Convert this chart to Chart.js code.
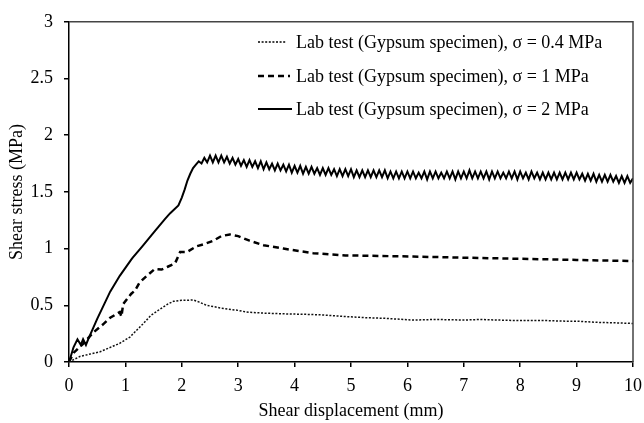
<!DOCTYPE html>
<html>
<head>
<meta charset="utf-8">
<script src="https://cdn.jsdelivr.net/npm/chart.js@4"></script>
<style>
html, body { margin: 0; padding: 0; background: #fff; }
</style>
</head>
<body>
<canvas id="shearChart" width="644" height="423"></canvas>
<script>
// legend labels
var seriesNames = [
	'Lab test (Gypsum specimen), \u03c3 = 0.4 MPa',
	'Lab test (Gypsum specimen), \u03c3 = 1 MPa',
	'Lab test (Gypsum specimen), \u03c3 = 2 MPa'
];

// sigma = 0.4 MPa (dotted)
var lowX = [0,0.2,0.55,0.9,1.08,1.2,1.32,1.45,1.61,1.75,1.85,2.0,2.12,2.2,2.3,2.44,2.7,3.0,3.15,3.5,
	3.8,4.21,4.5,4.92,5.3,5.6,6.1,6.5,7.0,7.29,7.6,8.0,8.47,8.8,9.0,9.36,9.7,10];
var lowY = [0,0.05,0.09,0.165,0.22,0.28,0.34,0.41,0.465,0.51,0.535,0.545,0.545,0.548,0.53,0.50,0.475,0.455,0.44,0.43,
	0.425,0.42,0.415,0.40,0.39,0.385,0.37,0.375,0.37,0.375,0.37,0.365,0.365,0.36,0.36,0.35,0.345,0.34];

// sigma = 1 MPa (dashed)
var midX = [0,0.08,0.25,0.43,0.6,0.73,0.9,0.93,0.96,1.1,1.17,1.25,1.38,1.52,1.64,1.75,1.88,1.97,2.09,2.26,
	2.4,2.56,2.7,2.85,3.0,3.2,3.45,3.8,4.33,4.9,5.5,6.1,7,8,9,10];
var midY = [0,0.08,0.16,0.26,0.33,0.39,0.44,0.40,0.51,0.60,0.63,0.70,0.76,0.82,0.815,0.84,0.87,0.97,0.97,1.02,
	1.04,1.07,1.11,1.125,1.11,1.07,1.03,1.0,0.96,0.94,0.935,0.93,0.92,0.91,0.90,0.89];

// sigma = 2 MPa (solid, saw-tooth after the peak)
var highX = [0,0.05,0.08,0.15,0.21,0.25,0.3,0.34,0.5,0.73,0.9,1.1,1.13,1.3,1.5,1.7,1.79,1.94,2.0,2.05,2.1,2.15,2.2,2.25,
	2.3,2.35,2.4,2.45,2.5,2.55,2.6,2.65,2.7,2.75,
	2.8,2.85,2.9,2.95,3,3.05,3.1,3.15,3.2,3.25,
	3.3,3.35,3.4,3.45,3.5,3.55,3.6,3.65,3.7,3.75,
	3.8,3.85,3.9,3.95,4,4.05,4.1,4.15,4.2,4.25,
	4.3,4.35,4.4,4.45,4.5,4.55,4.6,4.65,4.7,4.75,
	4.8,4.85,4.9,4.95,5,5.05,5.1,5.15,5.2,5.25,
	5.3,5.35,5.4,5.45,5.5,5.55,5.6,5.65,5.7,5.75,
	5.8,5.85,5.9,5.95,6,6.05,6.1,6.15,6.2,6.25,
	6.3,6.35,6.4,6.45,6.5,6.55,6.6,6.65,6.7,6.75,
	6.8,6.85,6.9,6.95,7,7.05,7.1,7.15,7.2,7.25,
	7.3,7.35,7.4,7.45,7.5,7.55,7.6,7.65,7.7,7.75,
	7.8,7.85,7.9,7.95,8,8.05,8.1,8.15,8.2,8.25,
	8.3,8.35,8.4,8.45,8.5,8.55,8.6,8.65,8.7,8.75,
	8.8,8.85,8.9,8.95,9,9.05,9.1,9.15,9.2,9.25,
	9.3,9.35,9.4,9.45,9.5,9.55,9.6,9.65,9.7,9.75,
	9.8,9.85,9.9,9.95,10];
var highY = [0,0.08,0.13,0.2,0.15,0.2,0.15,0.2,0.38,0.62,0.76,0.9,0.92,1.02,1.14,1.26,1.31,1.38,1.45,1.52,1.6,1.66,1.71,1.74,
	1.77,1.75,1.80,1.76,1.82,1.76,1.82,1.76,1.82,1.76,
	1.81,1.75,1.80,1.74,1.79,1.73,1.78,1.72,1.78,1.72,
	1.77,1.71,1.77,1.70,1.76,1.70,1.75,1.69,1.75,1.69,
	1.74,1.68,1.74,1.67,1.73,1.67,1.73,1.66,1.72,1.66,
	1.72,1.66,1.71,1.65,1.71,1.65,1.71,1.65,1.70,1.64,
	1.70,1.64,1.70,1.64,1.70,1.63,1.69,1.63,1.69,1.63,
	1.69,1.63,1.69,1.63,1.69,1.63,1.69,1.62,1.68,1.62,
	1.68,1.62,1.68,1.62,1.68,1.62,1.68,1.62,1.67,1.62,
	1.68,1.61,1.68,1.62,1.68,1.62,1.67,1.62,1.68,1.62,
	1.68,1.61,1.68,1.62,1.68,1.62,1.69,1.62,1.68,1.62,
	1.68,1.62,1.68,1.61,1.68,1.62,1.68,1.62,1.67,1.62,
	1.68,1.62,1.68,1.61,1.68,1.62,1.67,1.61,1.68,1.62,
	1.67,1.61,1.67,1.61,1.67,1.61,1.67,1.61,1.67,1.61,
	1.67,1.61,1.67,1.61,1.67,1.61,1.66,1.60,1.66,1.60,
	1.66,1.59,1.65,1.59,1.65,1.59,1.65,1.59,1.64,1.58,
	1.64,1.58,1.64,1.58,1.62];

var serif = "'Liberation Serif', 'Times New Roman', serif";

function toPoints(xs, ys) {
	var out = [];
	for (var i = 0; i < xs.length; i++) {
		out.push({x: xs[i], y: ys[i]});
	}
	return out;
}

// legend drawn by hand: short line sample + text
var legendPlugin = {
	id: 'sampleLegend',
	afterDraw: function(chart) {
		var ctx = chart.ctx;
		var rows = [42, 76, 109];
		var ends = [286, 290, 292];
		ctx.save();
		ctx.font = '18px ' + serif;
		ctx.fillStyle = '#000';
		ctx.textBaseline = 'middle';
		chart.data.datasets.forEach(function(ds, i) {
			ctx.beginPath();
			ctx.strokeStyle = '#000';
			ctx.lineWidth = ds.borderWidth;
			ctx.setLineDash(ds.borderDash || []);
			ctx.moveTo(258, rows[i]);
			ctx.lineTo(ends[i], rows[i]);
			ctx.stroke();
			ctx.setLineDash([]);
			ctx.fillText(ds.label, 296, rows[i] + 1);
		});
		ctx.restore();
	}
};

// top and right edges of the plot box
var framePlugin = {
	id: 'plotFrame',
	afterDatasetsDraw: function(chart) {
		var a = chart.chartArea;
		var ctx = chart.ctx;
		ctx.save();
		ctx.strokeStyle = '#444';
		ctx.lineWidth = 1.5;
		ctx.beginPath();
		ctx.moveTo(a.left, a.top);
		ctx.lineTo(a.right, a.top);
		ctx.lineTo(a.right, a.bottom);
		ctx.stroke();
		ctx.restore();
	}
};

var ctx = document.getElementById('shearChart');

var shearGraph = new Chart(ctx, {
	type: 'line',
	data: {
		datasets: [
			{
				label: seriesNames[0],
				data: toPoints(lowX, lowY),
				borderColor: '#111',
				borderWidth: 1.5,
				borderDash: [2, 1.6],
				pointRadius: 0,
				tension: 0
			},
			{
				label: seriesNames[1],
				data: toPoints(midX, midY),
				borderColor: '#000',
				borderWidth: 2.5,
				borderDash: [6, 4],
				pointRadius: 0,
				tension: 0
			},
			{
				label: seriesNames[2],
				data: toPoints(highX, highY),
				borderColor: '#000',
				borderWidth: 2,
				pointRadius: 0,
				tension: 0
			}
		]
	},
	options: {
		responsive: false,
		animation: false,
		devicePixelRatio: 1,
		layout: { padding: { top: 16, right: 11, bottom: 0, left: 0 } },
		plugins: {
			legend: { display: false },
			tooltip: { enabled: false }
		},
		scales: {
			x: {
				type: 'linear',
				min: 0,
				max: 10,
				afterFit: function(s) { s.height = 61; s.paddingRight = 0; s.paddingLeft = 0; },
				border: { color: '#000', width: 1.5 },
				grid: { drawOnChartArea: false, drawTicks: true, tickLength: 5, color: '#000', lineWidth: 1.5 },
				ticks: { stepSize: 1, color: '#000', padding: 8, maxRotation: 0, font: { family: serif, size: 18 } },
				title: { display: true, text: 'Shear displacement (mm)', color: '#000', padding: { top: 0, bottom: 1 }, font: { family: serif, size: 18 } }
			},
			y: {
				min: 0,
				max: 3,
				afterFit: function(s) { s.width = 69; },
				border: { color: '#000', width: 1.5 },
				grid: { drawOnChartArea: false, drawTicks: true, tickLength: 5, color: '#000', lineWidth: 1.5 },
				ticks: {
					stepSize: 0.5,
					color: '#000',
					padding: 11,
					font: { family: serif, size: 18 },
					callback: function(v) { return String(v); }
				},
				title: { display: true, text: 'Shear stress (MPa)', color: '#000', padding: { top: 6, bottom: 0 }, font: { family: serif, size: 18 } }
			}
		}
	},
	plugins: [legendPlugin, framePlugin]
});
</script>
</body>
</html>
